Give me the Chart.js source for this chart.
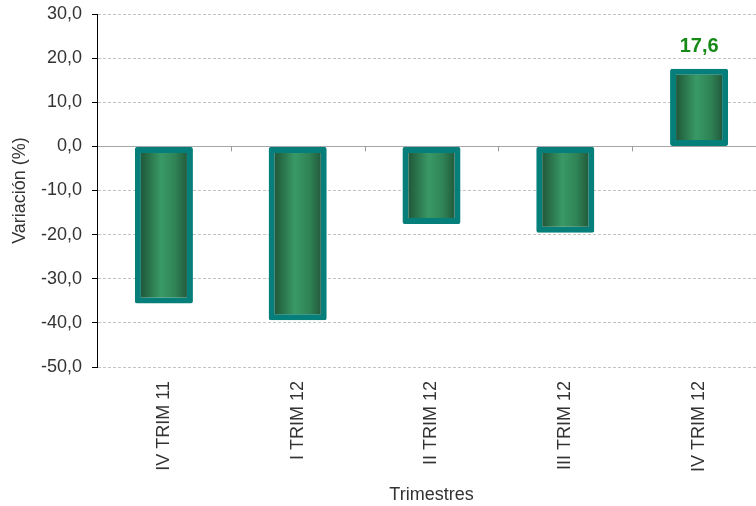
<!DOCTYPE html>
<html>
<head>
<meta charset="utf-8">
<script src="https://cdn.jsdelivr.net/npm/chart.js@4.4.1/dist/chart.umd.min.js"></script>
<style>
    html, body { margin: 0; padding: 0; background: #fff; overflow: hidden; }
    #wrap { width: 756px; height: 506px; overflow: hidden; }
</style>
</head>
<body>
<div id="wrap"><canvas id="chart" width="770" height="506"></canvas></div>
<script>
    // Data
    const categories = ['IV TRIM 11', 'I TRIM 12', 'II TRIM 12', 'III TRIM 12', 'IV TRIM 12'];
    const variation = [-35.6, -39.4, -17.6, -19.6, 17.6];
    const yTicks = [-50, -40, -30, -20, -10, 0, 10, 20, 30];

    const fmt = function(v) {
        return v.toFixed(1).replace('.', ',');
    };

    const BAR_PCT = 0.434;

    // Horizontal "cylinder" gradient for each bar
    function barGradient(ctx) {
        const chart = ctx.chart;
        const x = chart.scales.x;
        if (!x || !chart.chartArea) return '#2f8a5a';
        const cx = x.getPixelForValue(ctx.dataIndex);
        const half = (chart.chartArea.width / categories.length) * BAR_PCT / 2;
        const g = chart.ctx.createLinearGradient(cx - half, 0, cx + half, 0);
        g.addColorStop(0, '#1c4630');
        g.addColorStop(0.2, '#266a45');
        g.addColorStop(0.45, '#399966');
        g.addColorStop(0.7, '#2f8356');
        g.addColorStop(1, '#1c4630');
        return g;
    }

    // Small tick marks on the zero line between categories
    const zeroTicks = {
        id: 'zeroTicks',
        beforeDatasetsDraw(chart) {
            const x = chart.scales.x, y = chart.scales.y;
            const y0 = y.getPixelForValue(0);
            const c = chart.ctx;
            c.save();
            c.strokeStyle = '#9a9a9a';
            c.lineWidth = 1;
            c.beginPath();
            for (let i = 0; i < categories.length - 1; i++) {
                const bx = Math.round((x.getPixelForValue(i) + x.getPixelForValue(i + 1)) / 2) + 0.5;
                c.moveTo(bx, y0);
                c.lineTo(bx, y0 + 5);
            }
            c.stroke();
            c.restore();
        }
    };

    // Value label above positive bars
    const valueLabels = {
        id: 'valueLabels',
        afterDatasetsDraw(chart) {
            const c = chart.ctx;
            const meta = chart.getDatasetMeta(0);
            c.save();
            c.font = 'bold 20px "Liberation Sans", Arial, sans-serif';
            c.fillStyle = '#168a16';
            c.textAlign = 'center';
            c.textBaseline = 'bottom';
            meta.data.forEach(function(bar, i) {
                if (variation[i] > 0) {
                    c.fillText(fmt(variation[i]), bar.x, bar.y - 12);
                }
            });
            c.restore();
        }
    };

    const ctx = document.getElementById('chart').getContext('2d');
    const chart = new Chart(ctx, {
        type: 'bar',
        data: {
            labels: categories,
            datasets: [{
                data: variation,
                backgroundColor: barGradient,
                borderColor: '#067f7a',
                borderWidth: 6,
                borderRadius: 2,
                borderSkipped: false,
                categoryPercentage: 1,
                barPercentage: BAR_PCT
            }]
        },
        options: {
            responsive: false,
            animation: false,
            layout: {
                padding: { top: 14, right: 4, bottom: 0, left: 0 }
            },
            plugins: {
                legend: { display: false },
                tooltip: { enabled: false }
            },
            scales: {
                x: {
                    grid: { display: false, drawTicks: false },
                    border: { display: false },
                    ticks: {
                        minRotation: 90,
                        maxRotation: 90,
                        padding: 14,
                        color: '#333',
                        font: { family: '"Liberation Sans", Arial, sans-serif', size: 18 }
                    },
                    title: {
                        display: true,
                        text: 'Trimestres',
                        color: '#333',
                        padding: { top: 0, bottom: 0 },
                        font: { family: '"Liberation Sans", Arial, sans-serif', size: 18 }
                    },
                    afterFit: function(scale) {
                        scale.height = 139;
                        scale.paddingLeft = 0;
                        scale.paddingRight = 0;
                    }
                },
                y: {
                    min: -50,
                    max: 30,
                    afterBuildTicks: function(scale) {
                        scale.ticks = yTicks.map(function(v) { return { value: v }; });
                    },
                    grid: {
                        color: function(c) {
                            return c.tick && c.tick.value === 0 ? '#a6a6a6' : '#c4c4c4';
                        },
                        tickColor: '#000',
                        tickLength: 5,
                        tickBorderDash: []
                    },
                    border: {
                        display: true,
                        color: '#000',
                        width: 1,
                        dash: function(c) {
                            return c.tick && c.tick.value === 0 ? [] : [3, 2];
                        }
                    },
                    ticks: {
                        padding: 10,
                        color: '#333',
                        font: { family: '"Liberation Sans", Arial, sans-serif', size: 18 },
                        callback: function(v) { return fmt(v); }
                    },
                    title: {
                        display: true,
                        text: 'Variación (%)',
                        color: '#333',
                        padding: { top: 9, bottom: 0 },
                        font: { family: '"Liberation Sans", Arial, sans-serif', size: 18 }
                    },
                    afterFit: function(scale) {
                        scale.width = 97;
                        scale.paddingTop = 0;
                        scale.paddingBottom = 0;
                    }
                }
            }
        },
        plugins: [zeroTicks, valueLabels]
    });
</script>
</body>
</html>
